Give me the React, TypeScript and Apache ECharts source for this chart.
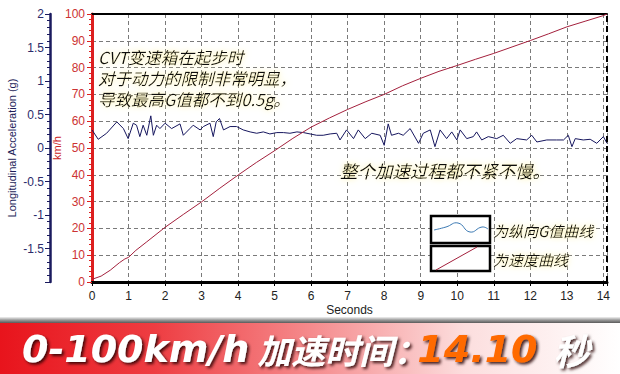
import React, { useEffect, useRef } from "react";
import * as echarts from "echarts";

// Speed curve (seconds, km/h)
const speedTime = [0, 0.25, 0.5, 0.75, 0.9, 1.0, 1.2, 1.5, 2, 2.5, 3, 3.5, 4, 4.5, 5, 5.5, 6, 6.5, 7, 7.5, 8, 8.5, 9, 9.5, 10, 10.5, 11, 11.5, 12, 12.5, 13, 13.5, 14, 14.1];
const speedKmh = [1, 2.2, 4.4, 7.2, 8.6, 9.2, 11.8, 15, 20.4, 25.2, 29.9, 35, 39.9, 44.6, 49, 53.6, 57.8, 61.2, 64.4, 67.3, 70, 73.2, 76, 78.6, 80.8, 83.1, 85.3, 87.7, 90.1, 92.6, 95.2, 97.3, 99.4, 100];

// Longitudinal acceleration (seconds, g)
const accelTime = [0, 0.17, 0.4, 0.68, 0.86, 0.99, 1.13, 1.22, 1.31, 1.4, 1.5, 1.61, 1.68, 1.77, 1.86, 2.0, 2.18, 2.41, 2.5, 2.68, 2.77, 2.96, 3.05, 3.23, 3.32, 3.4, 3.49, 3.6, 3.78, 3.96, 4.14, 4.33, 4.51, 4.69, 4.87, 5.06, 5.24, 5.42, 5.61, 5.79, 5.97, 6.15, 6.33, 6.52, 6.7, 6.79, 6.97, 7.16, 7.29, 7.48, 7.66, 7.89, 8.0, 8.11, 8.2, 8.39, 8.52, 8.71, 8.94, 9.07, 9.26, 9.39, 9.53, 9.71, 9.85, 9.99, 10.08, 10.26, 10.44, 10.53, 10.67, 10.85, 11.08, 11.26, 11.45, 11.63, 11.9, 12.04, 12.18, 12.45, 12.72, 12.91, 13.04, 13.14, 13.23, 13.45, 13.64, 13.82, 14.0, 14.1];
const accelG = [0.27, 0.13, 0.22, 0.39, 0.29, 0.14, 0.37, 0.34, 0.17, 0.34, 0.19, 0.48, 0.19, 0.34, 0.29, 0.37, 0.29, 0.36, 0.19, 0.29, 0.34, 0.27, 0.32, 0.37, 0.17, 0.39, 0.44, 0.27, 0.32, 0.32, 0.27, 0.24, 0.22, 0.24, 0.21, 0.23, 0.23, 0.22, 0.24, 0.23, 0.21, 0.19, 0.19, 0.21, 0.22, 0.12, 0.27, 0.14, 0.27, 0.14, 0.22, 0.19, 0.04, 0.36, 0.19, 0.22, 0.19, 0.29, 0.07, 0.22, 0.27, 0.02, 0.27, 0.14, 0.24, 0.12, 0.27, 0.14, 0.17, 0.24, 0.12, 0.17, 0.14, 0.19, 0.07, 0.14, 0.12, 0.19, 0.09, 0.12, 0.12, 0.12, 0.19, 0.02, 0.14, 0.12, 0.13, 0.07, 0.17, 0.07];

const xMax = 14.1;
const accelTicks = { min: -2, max: 2, interval: 0.5 };
const speedTicks = { min: 0, max: 100, interval: 10 };

const noteTopLines = ["CVT变速箱在起步时", "对于动力的限制非常明显，", "导致最高G值都不到0.5g。"];
const noteMid = "整个加速过程都不紧不慢。";
const legendAccel = "为纵向G值曲线";
const legendSpeed = "为速度曲线";
const axisNameAccel = "Longitudinal Acceleration (g)";
const axisNameSpeed = "km/h";
const axisNameTime = "Seconds";
const bannerLead = "0-100km/h";
const bannerCn = "加速时间：";
const bannerValue = "14.10";
const bannerUnit = "秒";

const LATIN = "'Liberation Sans', Arial, sans-serif";
const CJK = "'Noto Sans CJK SC', 'Noto Sans', sans-serif";
const HEAVY = "'DejaVu Sans', sans-serif";

export default function App() {
  const ref = useRef<HTMLDivElement>(null);
  useEffect(() => {
    if (!ref.current) return;
    const chart = echarts.init(ref.current, null, { renderer: "svg" });
    const gridLine = { show: true, lineStyle: { color: "#7a7a7a", type: [4, 3], width: 1 } };
    const noteStyle = {
      fill: "#111",
      fontFamily: CJK,
      fontSize: 16.5,
      fontStyle: "italic",
      textShadowColor: "#fff3a0",
      textShadowBlur: 6,
      verticalAlign: "middle",
      textVerticalAlign: "middle",
    };
    const bannerShadow = {
      textShadowColor: "rgba(40,0,0,0.85)",
      textShadowBlur: 3,
      textShadowOffsetX: 2,
      textShadowOffsetY: 2,
    };
    const noteGraphics = noteTopLines.map((line, i) => ({
      type: "text",
      x: 98,
      y: 57 + i * 21,
      style: { text: line, ...noteStyle },
      z: 10,
    }));
    const option = {
      animation: false,
      backgroundColor: "#ffffff",
      grid: { left: 92, right: 13, top: 14, bottom: 92, containLabel: false, outerBoundsMode: "none" },
      xAxis: [
        {
          type: "value",
          min: 0,
          max: xMax,
          interval: 1,
          name: axisNameTime,
          nameLocation: "middle",
          nameGap: 22,
          nameMoveOverlap: false,
          nameTextStyle: { color: "#222", fontSize: 12, fontFamily: LATIN },
          axisLine: { onZero: false, lineStyle: { color: "#000", width: 3 } },
          axisTick: { show: true, length: 4, lineStyle: { color: "#000" } },
          minorTick: { show: true, splitNumber: 5, length: 2, lineStyle: { color: "#000" } },
          axisLabel: {
            color: "#222",
            fontSize: 12,
            fontFamily: LATIN,
            margin: 8,
            formatter: (v: number) => (Number.isInteger(v) ? String(v) : ""),
          },
          splitLine: gridLine,
        },
        {
          type: "value",
          position: "top",
          min: 0,
          max: xMax,
          axisLine: { onZero: false, lineStyle: { color: "#000", width: 2 } },
          axisTick: { show: false },
          axisLabel: { show: false },
          splitLine: { show: false },
        },
      ],
      yAxis: [
        {
          type: "value",
          position: "left",
          min: speedTicks.min,
          max: speedTicks.max,
          interval: speedTicks.interval,
          name: axisNameSpeed,
          nameLocation: "middle",
          nameGap: 30,
          nameMoveOverlap: false,
          nameTextStyle: { color: "#cc2222", fontSize: 11, fontFamily: LATIN },
          axisLine: { show: true, onZero: false, lineStyle: { color: "#dd1f1f", width: 3 } },
          axisTick: { show: true, length: 5, lineStyle: { color: "#dd1f1f" } },
          minorTick: { show: true, splitNumber: 5, length: 3, lineStyle: { color: "#dd1f1f" } },
          axisLabel: { color: "#cc3333", fontSize: 12, fontFamily: LATIN, margin: 7 },
          splitLine: gridLine,
        },
        {
          type: "value",
          position: "left",
          offset: 42,
          min: accelTicks.min,
          max: accelTicks.max,
          interval: accelTicks.interval,
          name: axisNameAccel,
          nameLocation: "middle",
          nameGap: 33,
          nameMoveOverlap: false,
          nameTextStyle: { color: "#1e1e5a", fontSize: 11, fontFamily: LATIN },
          axisLine: { show: true, onZero: false, lineStyle: { color: "#1a1a5e", width: 2.5 } },
          axisTick: { show: true, length: 5, lineStyle: { color: "#1a1a5e" } },
          minorTick: { show: true, splitNumber: 5, length: 3, lineStyle: { color: "#1a1a5e" } },
          axisLabel: {
            color: "#2b2b6b",
            fontSize: 12,
            fontFamily: LATIN,
            margin: 6,
            formatter: (v: number) => (v === accelTicks.min ? "" : String(v)),
          },
          splitLine: { show: false },
        },
      ],
      series: [
        {
          type: "line",
          xAxisIndex: 0,
          yAxisIndex: 1,
          data: accelTime.map((t, i) => [t, accelG[i]]),
          showSymbol: false,
          lineStyle: { color: "#16165e", width: 1 },
          z: 3,
        },
        {
          type: "line",
          xAxisIndex: 0,
          yAxisIndex: 0,
          data: speedTime.map((t, i) => [t, speedKmh[i]]),
          showSymbol: false,
          lineStyle: { color: "#a3203c", width: 1 },
          z: 4,
          markLine: {
            silent: true,
            symbol: "none",
            label: { show: false },
            lineStyle: { color: "#000", type: [6, 4], width: 2 },
            data: [{ xAxis: xMax }],
          },
        },
      ],
      graphic: [
        ...noteGraphics,
        {
          type: "text",
          x: 340,
          y: 170,
          style: { text: noteMid, ...noteStyle, fontSize: 17.5 },
          z: 10,
        },
        {
          type: "rect",
          shape: { x: 431, y: 216, width: 59, height: 27 },
          style: { fill: "#fff", stroke: "#000", lineWidth: 2.5 },
          z: 10,
        },
        {
          type: "polyline",
          shape: { points: [[434, 230], [446, 227], [458, 223], [470, 232], [482, 227], [488, 229]], smooth: 0.5 },
          style: { stroke: "#3c7ab4", lineWidth: 1, fill: null },
          z: 11,
        },
        {
          type: "rect",
          shape: { x: 431, y: 246, width: 59, height: 25 },
          style: { fill: "#fff", stroke: "#000", lineWidth: 2.5 },
          z: 10,
        },
        {
          type: "line",
          shape: { x1: 436, y1: 270, x2: 477, y2: 247 },
          style: { stroke: "#a3203c", lineWidth: 1 },
          z: 11,
        },
        {
          type: "text",
          x: 493,
          y: 230,
          style: { text: legendAccel, ...noteStyle, fontSize: 15 },
          z: 10,
        },
        {
          type: "text",
          x: 493,
          y: 259,
          style: { text: legendSpeed, ...noteStyle, fontSize: 15 },
          z: 10,
        },
        {
          type: "rect",
          shape: { x: 0, y: 317, width: 620, height: 6 },
          style: {
            fill: new echarts.graphic.LinearGradient(0, 0, 0, 1, [
              { offset: 0, color: "#f2f2f2" },
              { offset: 0.5, color: "#9a9a9a" },
              { offset: 1, color: "#5a5a5a" },
            ]),
          },
          z: 20,
        },
        {
          type: "rect",
          shape: { x: 0, y: 323, width: 620, height: 51 },
          style: {
            fill: new echarts.graphic.LinearGradient(0, 0, 1, 0, [
              { offset: 0, color: "#e8141c" },
              { offset: 0.25, color: "#ee3d42" },
              { offset: 0.5, color: "#f58a8c" },
              { offset: 0.75, color: "#fcdede" },
              { offset: 1, color: "#ffffff" },
            ]),
          },
          z: 20,
        },
        {
          type: "text",
          x: 22,
          y: 349,
          style: {
            text: `{a|${bannerLead}}{b|${bannerCn}}{c|${bannerValue}}{d|${bannerUnit}}`,
            verticalAlign: "middle",
            textVerticalAlign: "middle",
            rich: {
              a: {
                fill: "#ffffff",
                color: "#ffffff",
                fontFamily: HEAVY,
                fontWeight: "bold",
                fontStyle: "italic",
                fontSize: 38,
                padding: [0, 8, 0, 0],
                ...bannerShadow,
              },
              b: {
                fill: "#ffffff",
                color: "#ffffff",
                fontFamily: CJK,
                fontWeight: "bold",
                fontStyle: "italic",
                fontSize: 34,
                padding: [0, -10, 0, 0],
                ...bannerShadow,
              },
              c: {
                fill: "#ff6a00",
                color: "#ff6a00",
                fontFamily: HEAVY,
                fontWeight: "bold",
                fontStyle: "italic",
                fontSize: 38,
                padding: [0, 16, 0, 0],
                ...bannerShadow,
              },
              d: {
                fill: "#ffffff",
                color: "#ffffff",
                fontFamily: CJK,
                fontWeight: "bold",
                fontStyle: "italic",
                fontSize: 36,
                ...bannerShadow,
              },
            },
          },
          z: 21,
        },
      ],
    };
    chart.setOption(option as any);
    return () => chart.dispose();
  }, []);
  return (
    <div
      ref={ref}
      style={{ position: "fixed", left: 0, top: 0, width: 620, height: 374, background: "#fff" }}
    />
  );
}
